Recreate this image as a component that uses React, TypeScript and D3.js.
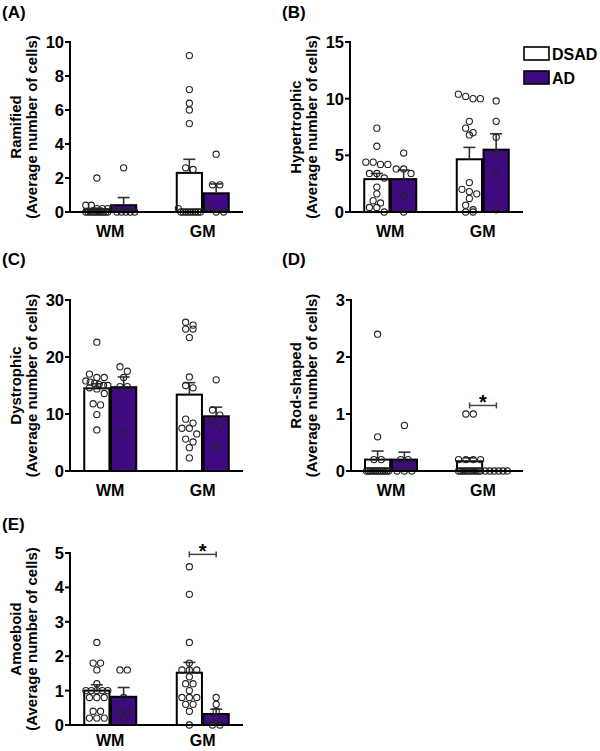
import React from "react";
import * as d3 from "d3";

// ---------- Data ----------
const groups = ["WM", "GM"];
const conditions = ["DSAD", "AD"];
const legendLabels = ["DSAD", "AD"];

// Ramified
const ramifiedWM_DSAD = [2.0, 0.4, 0.4, 0.2, 0.2, 0.2, 0, 0, 0, 0, 0, 0, 0, 0, 0, 0, 0];
const ramifiedWM_AD = [2.6, 0.2, 0, 0, 0, 0, 0];
const ramifiedGM_DSAD = [9.2, 7.2, 6.4, 6.0, 5.2, 2.6, 2.5, 0.2, 0, 0, 0, 0, 0, 0, 0, 0, 0];
const ramifiedGM_AD = [3.4, 1.6, 1.6, 0.2, 0, 0];
const ramifiedMean = [0.15, 0.4, 2.3, 1.1];
const ramifiedSem = [0.08, 0.45, 0.8, 0.55];
const ramifiedTicks = [0, 2, 4, 6, 8, 10];

// Hypertrophic
const hyperWM_DSAD = [7.4, 5.8, 4.4, 4.4, 4.2, 4.2, 3.4, 3.4, 3.0, 2.2, 1.6, 1.0, 0.8, 0.4, 0.4, 0];
const hyperWM_AD = [5.2, 3.8, 3.8, 3.4, 1.4, 0];
const hyperGM_DSAD = [10.4, 10.2, 10.0, 10.0, 8.0, 7.4, 7.0, 6.8, 2.6, 2.0, 1.8, 1.6, 1.2, 0.6, 0.2, 0, 0];
const hyperGM_AD = [9.8, 8.0, 6.6, 5.2, 3.4, 0.2];
const hyperMean = [2.9, 2.9, 4.65, 5.5];
const hyperSem = [0.5, 0.8, 1.05, 1.4];
const hyperTicks = [0, 5, 10, 15];

// Dystrophic
const dystWM_DSAD = [22.6, 17.0, 16.4, 16.4, 15.8, 15.6, 15.4, 15.2, 15.0, 15.0, 14.6, 14.4, 13.6, 11.8, 11.6, 9.9, 7.2];
const dystWM_AD = [18.3, 17.5, 16.4, 14.8, 14.8, 6.5];
const dystGM_DSAD = [26.1, 25.6, 24.9, 24.9, 23.4, 16.5, 15.0, 14.6, 9.1, 8.4, 7.5, 7.5, 6.5, 5.6, 5.1, 4.1, 2.3];
const dystGM_AD = [16.0, 10.7, 9.8, 8.9, 7.9, 4.1];
const dystMean = [14.5, 14.7, 13.4, 9.6];
const dystSem = [0.8, 1.8, 2.1, 1.6];
const dystTicks = [0, 10, 20, 30];

// Rod-shaped
const rodWM_DSAD = [2.4, 0.6, 0.2, 0.2, 0, 0, 0, 0, 0, 0, 0, 0, 0, 0, 0, 0, 0];
const rodWM_AD = [0.8, 0.2, 0.2, 0, 0, 0];
const rodGM_DSAD = [1.0, 1.0, 0.2, 0.2, 0.2, 0.2, 0, 0, 0, 0, 0, 0, 0, 0, 0, 0, 0];
const rodGM_AD = [0, 0, 0, 0, 0, 0];
const rodMean = [0.2, 0.2, 0.17, 0];
const rodSem = [0.15, 0.13, 0.06, 0];
const rodTicks = [0, 1, 2, 3];
const rodSignif = 1.15;

// Amoeboid
const amoWM_DSAD = [2.4, 1.8, 1.8, 1.6, 1.2, 1.0, 1.0, 1.0, 1.0, 1.0, 0.8, 0.8, 0.8, 0.4, 0.4, 0.2, 0.2, 0.2];
const amoWM_AD = [1.6, 1.6, 0.8, 0.4, 0.4, 0.2];
const amoGM_DSAD = [4.6, 3.8, 2.4, 1.8, 1.6, 1.6, 1.6, 1.4, 1.2, 1.2, 1.0, 0.8, 0.8, 0.8, 0.6, 0.6, 0.4, 0];
const amoGM_AD = [0.8, 0.6, 0.4, 0.2, 0, 0];
const amoMean = [1.0, 0.82, 1.52, 0.32];
const amoSem = [0.17, 0.27, 0.3, 0.14];
const amoTicks = [0, 1, 2, 3, 4, 5];
const amoSignif = 4.96;

// ---------- Layout / style ----------
const FONT = "'Liberation Sans', Arial, Helvetica, sans-serif";
const PURPLE = "#3f0a80";
const fills = ["#ffffff", PURPLE];

type Panel = {
  label: string;
  title: string;
  points: number[][];
  mean: number[];
  sem: number[];
  ticks: number[];
  signif?: number;
  ox: number;
  axisX: number;
  axisEnd: number;
  yTop: number;
  yBot: number;
  labelY: number;
  catOffset: number;
};

const panels: Panel[] = [
  { label: "(A)", title: "Ramified", points: [ramifiedWM_DSAD, ramifiedWM_AD, ramifiedGM_DSAD, ramifiedGM_AD], mean: ramifiedMean, sem: ramifiedSem, ticks: ramifiedTicks, ox: 0, axisX: 70, axisEnd: 243, yTop: 42, yBot: 212, labelY: 18, catOffset: 25 },
  { label: "(B)", title: "Hypertrophic", points: [hyperWM_DSAD, hyperWM_AD, hyperGM_DSAD, hyperGM_AD], mean: hyperMean, sem: hyperSem, ticks: hyperTicks, ox: 280, axisX: 350, axisEnd: 523, yTop: 42, yBot: 212, labelY: 18, catOffset: 25 },
  { label: "(C)", title: "Dystrophic", points: [dystWM_DSAD, dystWM_AD, dystGM_DSAD, dystGM_AD], mean: dystMean, sem: dystSem, ticks: dystTicks, ox: 0, axisX: 70, axisEnd: 243, yTop: 300, yBot: 471, labelY: 265, catOffset: 25 },
  { label: "(D)", title: "Rod-shaped", points: [rodWM_DSAD, rodWM_AD, rodGM_DSAD, rodGM_AD], mean: rodMean, sem: rodSem, ticks: rodTicks, signif: rodSignif, ox: 280, axisX: 351, axisEnd: 523, yTop: 300, yBot: 471, labelY: 265, catOffset: 25 },
  { label: "(E)", title: "Amoeboid", points: [amoWM_DSAD, amoWM_AD, amoGM_DSAD, amoGM_AD], mean: amoMean, sem: amoSem, ticks: amoTicks, signif: amoSignif, ox: 0, axisX: 70, axisEnd: 243, yTop: 553, yBot: 725, labelY: 530, catOffset: 20.5 },
];

const R = 3.1;
const MAX_HALF = 11;

// Row-based beeswarm offsets, computed from the values
function swarm(values: number[], y: (v: number) => number): { v: number; dx: number }[] {
  const sorted = [...values].sort((a, b) => b - a);
  const rows: number[][] = [];
  let rowStart = -Infinity;
  for (const v of sorted) {
    const py = y(v);
    if (rows.length === 0 || py - rowStart > 6) {
      rows.push([v]);
      rowStart = py;
    } else rows[rows.length - 1].push(v);
  }
  const out: { v: number; dx: number }[] = [];
  for (const row of rows) {
    const k = row.length;
    const sp = k > 1 ? Math.min(7.4, (2 * MAX_HALF) / (k - 1)) : 0;
    row.forEach((v, i) => out.push({ v, dx: (i - (k - 1) / 2) * sp }));
  }
  return out;
}

function PanelView({ p }: { p: Panel }) {
  const y = d3.scaleLinear().domain([0, p.ticks[p.ticks.length - 1]]).range([p.yBot, p.yTop]);
  const xg = d3.scalePoint<string>().domain(groups).range([p.axisX, p.axisEnd]).padding(0.435);
  const xi = d3.scaleBand<string>().domain(conditions).range([-26, 26]).paddingInner(0.06);
  const bw = xi.bandwidth();
  const midY = (p.yTop + p.yBot) / 2;
  const items = groups.flatMap((g, gi) =>
    conditions.map((c, ci) => {
      const idx = gi * 2 + ci;
      const x0 = (xg(g) as number) + (xi(c) as number);
      return { g, c, ci, idx, x0, cx: x0 + bw / 2 };
    })
  );
  return (
    <g>
      <text x={p.ox + 2} y={p.labelY} fontFamily={FONT} fontWeight="bold" fontSize={17}>{p.label}</text>
      <text transform={`translate(${p.ox + 21},${midY}) rotate(-90)`} textAnchor="middle" fontFamily={FONT} fontWeight="bold" fontSize={15}>{p.title}</text>
      <text transform={`translate(${p.ox + 37},${midY}) rotate(-90)`} textAnchor="middle" fontFamily={FONT} fontWeight="bold" fontSize={15}>(Average number of cells)</text>
      {/* bars */}
      {items.map((it) => (
        <rect key={"b" + it.idx} x={it.x0} y={y(p.mean[it.idx])} width={bw} height={Math.max(0, y(0) - y(p.mean[it.idx]))}
          fill={fills[it.ci]} stroke="#000" strokeWidth={2} />
      ))}
      {/* error bars */}
      {items.filter((it) => p.sem[it.idx] > 0).map((it) => {
        const top = y(p.mean[it.idx] + p.sem[it.idx]);
        return (
          <g key={"e" + it.idx} stroke="#333" strokeWidth={1.6}>
            <line x1={it.cx} x2={it.cx} y1={y(p.mean[it.idx])} y2={top} />
            <line x1={it.cx - 6} x2={it.cx + 6} y1={top} y2={top} />
          </g>
        );
      })}
      {/* points */}
      {items.map((it) =>
        swarm(p.points[it.idx], y).map((pt, k) => (
          <circle key={"p" + it.idx + "-" + k} cx={it.cx + pt.dx} cy={y(pt.v)} r={R} fill="none" stroke="#222" strokeWidth={1.1} />
        ))
      )}
      {/* axes */}
      <line x1={p.axisX} x2={p.axisX} y1={p.yTop - 1} y2={p.yBot + 1} stroke="#000" strokeWidth={2} />
      <line x1={p.axisX - 1} x2={p.axisEnd} y1={p.yBot} y2={p.yBot} stroke="#000" strokeWidth={2} />
      {p.ticks.map((t) => (
        <g key={"t" + t}>
          <line x1={p.axisX - 5} x2={p.axisX} y1={y(t)} y2={y(t)} stroke="#000" strokeWidth={2} />
          <text x={p.axisX - 6} y={y(t)} dy="0.36em" textAnchor="end" fontFamily={FONT} fontWeight="bold" fontSize={16.5}>{t}</text>
        </g>
      ))}
      {groups.map((g) => (
        <text key={"g" + g} x={xg(g) as number} y={p.yBot + p.catOffset} textAnchor="middle" fontFamily={FONT} fontWeight="bold" fontSize={16}>{g}</text>
      ))}
      {p.signif !== undefined && (() => {
        const a = items[2].cx, b = items[3].cx, sy = y(p.signif as number);
        return (
          <g>
            <g stroke="#444" strokeWidth={1.5}>
              <line x1={a} x2={b} y1={sy} y2={sy} />
              <line x1={a} x2={a} y1={sy - 3} y2={sy + 3} />
              <line x1={b} x2={b} y1={sy - 3} y2={sy + 3} />
            </g>
            <text x={(a + b) / 2} y={sy + 4} textAnchor="middle" fontFamily={FONT} fontWeight="bold" fontSize={20}>*</text>
          </g>
        );
      })()}
    </g>
  );
}

export default function App() {
  return (
    <svg width={600} height={751} style={{ position: "absolute", left: 0, top: 0, background: "#fff" }}>
      <rect width={600} height={751} fill="#fff" />
      {panels.map((p) => <PanelView key={p.label} p={p} />)}
      {legendLabels.map((l, i) => (
        <g key={l}>
          <rect x={524} y={47 + i * 24} width={25} height={13} fill={fills[i]} stroke="#000" strokeWidth={1.6} />
          <text x={552} y={60 + i * 24} fontFamily={FONT} fontWeight="bold" fontSize={16}>{l}</text>
        </g>
      ))}
    </svg>
  );
}
